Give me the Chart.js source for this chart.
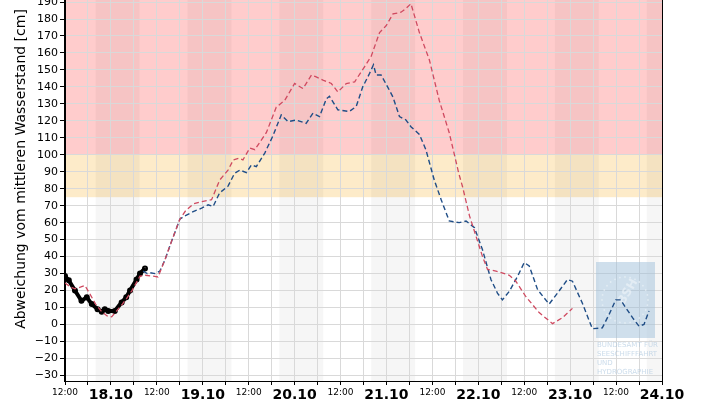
<!DOCTYPE html>
<html lang="de">
<head>
<meta charset="UTF-8">
<title>Wasserstand</title>
<script src="https://cdn.jsdelivr.net/npm/chart.js"></script>
<style>
  html, body { margin: 0; background: #fff; overflow: hidden; }
  #wrap { width: 717px; height: 403px; overflow: hidden; }
  #myChart { display: block; }
</style>
</head>
<body>
<div id="wrap"><canvas id="myChart" width="717" height="403"></canvas></div>
<script>
// x values: hours since 17.10 12:00
var obsHours  = [0, 1, 2.6, 4.3, 5.7, 7, 8.5, 9.6, 10.4, 11.3, 13, 14.8, 16, 17, 18.7, 19.6, 20.9];
var obsValues = [28.5, 26, 20, 14, 16, 12, 9, 7.5, 9, 8, 8, 13, 16, 20, 26.5, 30, 33];

var redHours  = [0, 1.5, 2.6, 4, 5.2, 6.5, 8, 9.6, 11, 12.2, 13.5, 15, 16, 17.5, 19.6, 21, 23, 24.3,
                 26.1, 28, 30, 31.5, 33.5, 35, 36.1, 38.3, 40.4, 42.6, 44, 45.5, 46.5, 48.3, 49.6,
                 52.6, 55.2, 57.4, 60, 62.2, 64.4, 65.5, 67.4, 69.6, 71.3, 73.5, 75.7, 78.3, 80,
                 82.2, 83.9, 85.7, 87.8, 89, 90.4, 92.6, 95.2, 97.8, 100.4, 102.9, 103.9, 105.7,
                 107.4, 109.1, 110.4, 112.6, 116.1, 117.8, 120.4, 123.9, 127.4, 130, 132.6];
var redValues = [24.5, 22, 21, 22, 23, 18, 12, 7.5, 5, 4.5, 8, 12, 15, 20, 28.5, 29, 28.5, 28,
                 38, 50, 62, 67, 71, 72, 72.5, 73.5, 85, 91, 97, 98, 97, 104, 103,
                 113, 128, 132, 142, 139, 147, 146, 144, 142, 137, 142, 143, 152, 158,
                 172, 176, 183, 184, 186, 189, 172, 156, 132, 113, 89, 81, 64,
                 52, 40, 32.5, 31.5, 29, 25.5, 16.5, 7, 0.5, 4, 9.5];

var blueHours  = [20.4, 21.5, 22.2, 23.5, 24.8, 26.1, 28, 30, 31.3, 33.5, 35.7, 37.4, 38.7, 40.4,
                  42.6, 44.3, 45.7, 47.4, 48.7, 50, 52.2, 54.3, 56.5, 58.3, 60.4, 63, 64.8, 66.5,
                  68.3, 69.1, 71.3, 74.3, 76.1, 77.8, 79.6, 80.6, 81.3, 82.6, 84.3, 85.7, 87.4,
                  89.1, 90.4, 92.6, 94.3, 96.5, 98.3, 100.4, 103, 104.8, 107, 109.1, 111.3, 113,
                  114.3, 116.1, 118.3, 120, 121.3, 123.5, 126.5, 128.7, 131.3, 132.6, 135.2,
                  137.8, 140.4, 142.2, 143.9, 145.2, 146.5, 148.3, 150, 151.3, 152.6];
var blueValues = [31.4, 30, 30.5, 30, 31.5, 38, 50, 62, 64, 66.5, 68.5, 70.5, 69.5, 77.5,
                  81.5, 89, 91, 89.5, 94, 93, 101, 111, 123.5, 119.5, 120.5, 118.5, 124.5, 122.5,
                  133, 134.5, 126.5, 125.5, 128.5, 140, 148, 153, 147, 147, 140, 134, 122.5,
                  120.5, 116.5, 112, 103, 85, 73.5, 61, 60, 61, 57, 44, 26.5, 18.5,
                  14.5, 19.5, 28.5, 36.5, 34.5, 20.5, 12, 18.5, 26.5, 25.5, 12.5,
                  -2.5, -2, 6, 14.5, 14.5, 10, 4, -1, 0, 8];

var nightStart = [8, 32, 56, 80, 104, 128, 152];
var nightEnd   = [19.5, 43.5, 67.5, 91.5, 115.5, 139.5, 163.5];
var warnLevels = [75, 100];
var dayLabels  = ['18.10', '19.10', '20.10', '21.10', '22.10', '23.10', '24.10'];

var FONT = 'DejaVu Sans';

function pairs(xs, ys) {
    var out = [];
    for (var i = 0; i < xs.length; i++) out.push({x: xs[i], y: ys[i]});
    return out;
}

var bgPlugin = {
    id: 'bands',
    beforeDraw: function (chart) {
        var c = chart.ctx, a = chart.chartArea;
        var xs = chart.scales.x, ys = chart.scales.y;
        var y75 = ys.getPixelForValue(warnLevels[0]);
        var y100 = ys.getPixelForValue(warnLevels[1]);
        c.save();
        c.fillStyle = '#ffcccc';
        c.fillRect(a.left, a.top, a.right - a.left, y100 - a.top);
        c.fillStyle = '#fdebc9';
        c.fillRect(a.left, y100, a.right - a.left, y75 - y100);
        c.fillStyle = 'rgba(0,0,0,0.035)';
        for (var i = 0; i < nightStart.length; i++) {
            var x0 = Math.max(a.left, xs.getPixelForValue(nightStart[i]));
            var x1 = Math.min(a.right, xs.getPixelForValue(nightEnd[i]));
            if (x1 > x0) c.fillRect(x0, a.top, x1 - x0, a.bottom - a.top);
        }
        c.restore();
    },
    beforeDatasetsDraw: function (chart) {
        // BSH watermark
        var c = chart.ctx, a = chart.chartArea;
        var ox = 596, oy = a.bottom - 119;
        c.save();
        c.fillStyle = 'rgba(160,192,218,0.5)';
        c.fillRect(ox, oy, 59, 76);
        c.fillStyle = 'rgba(235,242,248,0.7)';
        for (var k = 0; k < 28; k++) {
            var t = k / 28 * Math.PI * 2;
            c.beginPath();
            c.arc(ox + 29 + Math.cos(t) * 23, oy + 38 + Math.sin(t) * 23, 0.9, 0, Math.PI * 2);
            c.fill();
        }
        c.font = 'bold 12px ' + FONT;
        c.textAlign = 'center';
        c.textBaseline = 'middle';
        c.translate(ox + 32, oy + 30);
        c.rotate(-Math.PI / 3);
        c.fillText('BSH', 0, 0);
        c.restore();
        c.save();
        c.fillStyle = 'rgba(160,192,218,0.55)';
        c.font = '7px ' + FONT;
        c.textBaseline = 'middle';
        ['BUNDESAMT FÜR', 'SEESCHIFFFAHRT', 'UND', 'HYDROGRAPHIE'].forEach(function (s, i) {
            c.fillText(s, ox + 1, oy + 83 + i * 9);
        });
        c.restore();
    },
    afterDraw: function (chart) {
        var c = chart.ctx, a = chart.chartArea;
        c.save();
        c.strokeStyle = '#000';
        c.lineWidth = 1;
        c.strokeRect(Math.round(a.left) - 0.5, Math.round(a.top) - 0.5,
                     Math.round(a.right - a.left) + 1, Math.round(a.bottom - a.top) + 1);
        c.fillStyle = '#000';
        c.font = '14px ' + FONT;
        c.textAlign = 'center';
        c.textBaseline = 'middle';
        c.translate(21, a.bottom - 212);
        c.rotate(-Math.PI / 2);
        c.fillText('Abweichung vom mittleren Wasserstand [cm]', 0, 0);
        c.restore();
    }
};

var data = {
    datasets: [
        {
            label: 'Vorhersage A',
            data: pairs(redHours, redValues),
            borderColor: '#cf4a60',
            borderWidth: 1.3,
            borderDash: [5, 3],
            pointRadius: 0,
            fill: false
        },
        {
            label: 'Vorhersage B',
            data: pairs(blueHours, blueValues),
            borderColor: '#1f4d86',
            borderWidth: 1.4,
            borderDash: [5, 3],
            pointRadius: 0,
            fill: false
        },
        {
            label: 'Messung',
            data: pairs(obsHours, obsValues),
            borderColor: '#000',
            backgroundColor: '#000',
            borderWidth: 4,
            pointRadius: 1,
            fill: false
        }
    ]
};

var options = {
    responsive: false,
    animation: false,
    layout: { padding: { left: 0, right: 55, top: 0, bottom: 0 } },
    plugins: { legend: { display: false }, tooltip: { enabled: false } },
    elements: { line: { tension: 0 } },
    scales: {
        x: {
            type: 'linear',
            position: 'bottom',
            min: 0,
            max: 156,
            afterFit: function (s) { s.height = 22; s.paddingLeft = 0; s.paddingRight = 0; },
            grid: { color: '#d9d9d9', tickColor: '#000', tickLength: 4 },
            border: { color: '#000' },
            ticks: {
                stepSize: 6,
                autoSkip: false,
                maxRotation: 0,
                padding: 2,
                color: '#000',
                font: function (ctx) {
                    var v = ctx.tick ? ctx.tick.value : 0;
                    if (v % 24 === 12) return { family: FONT, size: 14, weight: 'bold' };
                    return { family: FONT, size: 9 };
                },
                callback: function (v) {
                    if (v % 24 === 0) return '12:00';
                    if (v % 24 === 12) return dayLabels[(v - 12) / 24];
                    return '';
                }
            }
        },
        y: {
            type: 'linear',
            min: -33.3,
            max: 191.2,
            afterFit: function (s) { s.width = 65; s.paddingTop = 0; s.paddingBottom = 0; },
            grid: { color: '#d9d9d9', tickColor: '#000', tickLength: 5 },
            border: { color: '#000' },
            ticks: {
                stepSize: 10,
                includeBounds: false,
                padding: 2,
                color: '#000',
                font: { family: FONT, size: 11 },
                callback: function (v) { return v < 0 ? '\u2212' + Math.abs(v) : String(v); }
            }
        }
    }
};

var canvas = document.getElementById('myChart');
var config = { type: 'line', data: data, options: options, plugins: [bgPlugin] };
var myChart = new Chart(canvas.getContext('2d'), config);

// the original figure is cropped at the top edge of the plot:
// measure the gap Chart.js leaves above the plot, then redraw on a taller canvas shifted up
var topGap = Math.round(myChart.chartArea.top);
if (topGap > 0) {
    myChart.destroy();
    canvas.width = 717;
    canvas.height = 403 + topGap;
    canvas.style.width = '717px';
    canvas.style.height = (403 + topGap) + 'px';
    canvas.style.marginTop = (-topGap) + 'px';
    myChart = new Chart(canvas.getContext('2d'), config);
}
</script>
</body>
</html>
